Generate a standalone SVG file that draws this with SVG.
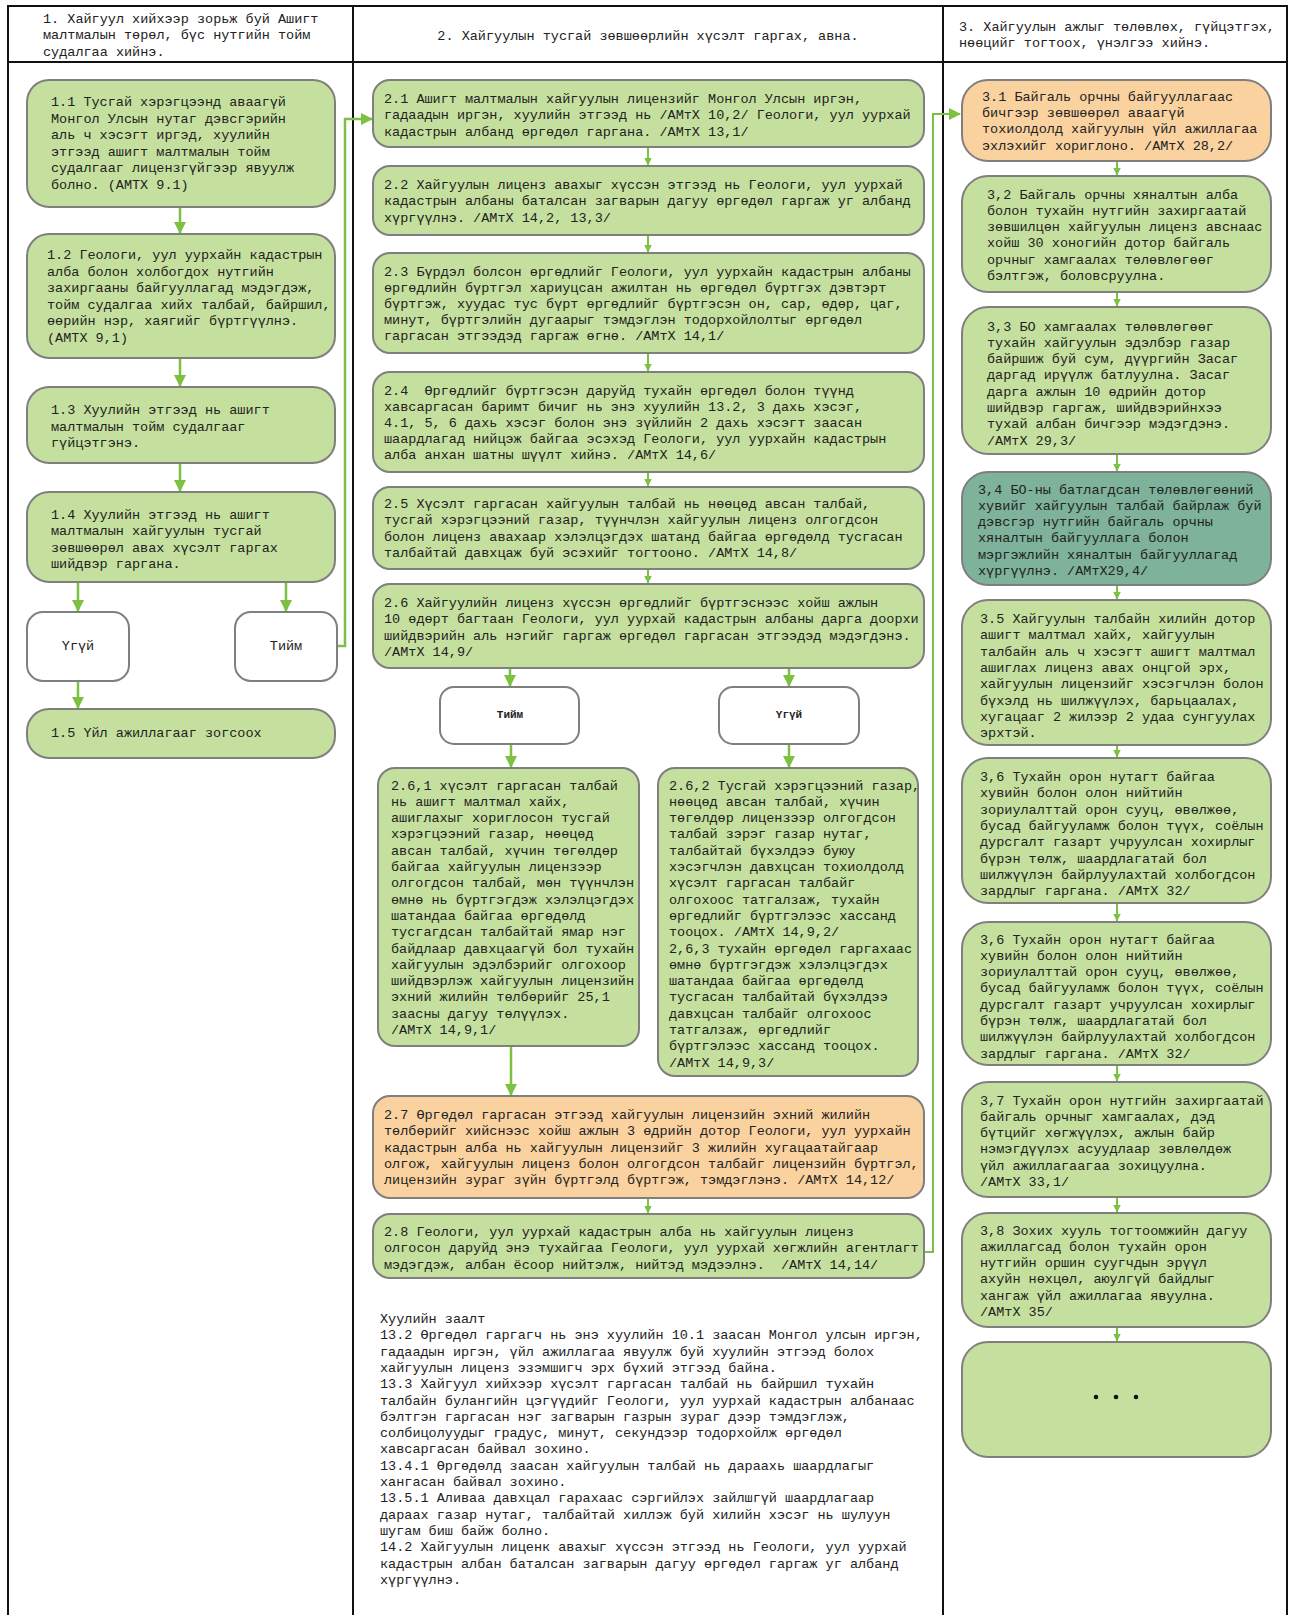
<svg xmlns="http://www.w3.org/2000/svg" width="1291" height="1615" viewBox="0 0 1291 1615">
<style>
.t{font-family:"Liberation Mono","DejaVu Sans Mono",monospace;font-size:13.5px;fill:#222;white-space:pre}
.s{font-family:"Liberation Mono","DejaVu Sans Mono",monospace;font-size:11px;font-weight:bold;fill:#222}
.g{fill:#c5e09e;stroke:#7f7f7f;stroke-width:2}
.o{fill:#fad2a0;stroke:#7f7f7f;stroke-width:2}
.tl{fill:#7eb29a;stroke:#7f7f7f;stroke-width:2}
.w{fill:#fff;stroke:#7f7f7f;stroke-width:2}
.c{fill:none;stroke:#7dc142;stroke-width:2.5}
.cs{fill:none;stroke:#7dc142;stroke-width:2}
.f{stroke:#111;stroke-width:2;fill:none}
</style>
<defs>
<marker id="ab" markerUnits="userSpaceOnUse" markerWidth="12" markerHeight="12" viewBox="0 0 12 12" refX="11" refY="6" orient="auto"><path d="M0,0 L12,6 L0,12 z" fill="#7dc142"/></marker>
<marker id="as" markerUnits="userSpaceOnUse" markerWidth="8" markerHeight="8" viewBox="0 0 8 8" refX="7.5" refY="4" orient="auto"><path d="M0,0 L8,4 L0,8 z" fill="#7dc142"/></marker>
</defs>
<rect width="1291" height="1615" fill="#fff"/>
<g id="frame">
<line class="f" x1="7" y1="6" x2="1288" y2="6" stroke-width="3"/>
<line class="f" x1="7" y1="62" x2="1288" y2="62"/>
<line class="f" x1="8" y1="5" x2="8" y2="1615"/>
<line class="f" x1="353" y1="5" x2="353" y2="1615"/>
<line class="f" x1="943" y1="5" x2="943" y2="1615"/>
<line class="f" x1="1287" y1="5" x2="1287" y2="1615"/>
</g>
<g id="headers">
<text class="t"><tspan x="43" y="23">1. Хайгуул хийхээр зорьж буй Ашигт</tspan><tspan x="43" dy="16.4">малтмалын төрөл, бүс нутгийн тойм</tspan><tspan x="43" dy="16.4">судалгаа хийнэ.</tspan></text>
<text class="t" x="648" y="39.5" text-anchor="middle">2. Хайгуулын тусгай зөвшөөрлийн хүсэлт гаргах, авна.</text>
<text class="t"><tspan x="959" y="31">3. Хайгуулын ажлыг төлөвлөх, гүйцэтгэх,</tspan><tspan x="959" dy="16.4">нөөцийг тогтоох, үнэлгээ хийнэ.</tspan></text>
</g>
<g id="connectors">
<path class="c" d="M180,207 V233" marker-end="url(#ab)"/>
<path class="c" d="M180,358 V386" marker-end="url(#ab)"/>
<path class="c" d="M180,463 V491" marker-end="url(#ab)"/>
<path class="c" d="M78,582 V611" marker-end="url(#ab)"/>
<path class="c" d="M286,582 V611" marker-end="url(#ab)"/>
<path class="c" d="M78,681 V708" marker-end="url(#ab)"/>
<path class="c" d="M330,646 H345 V119 H372" marker-end="url(#ab)"/>
<path class="cs" d="M648,147 V165" marker-end="url(#as)"/>
<path class="cs" d="M648,235 V252" marker-end="url(#as)"/>
<path class="cs" d="M648,353 V371" marker-end="url(#as)"/>
<path class="cs" d="M648,472 V486" marker-end="url(#as)"/>
<path class="cs" d="M648,569 V583" marker-end="url(#as)"/>
<path class="c" d="M510,668 V686" marker-end="url(#ab)"/>
<path class="c" d="M789,668 V686" marker-end="url(#ab)"/>
<path class="c" d="M511,744 V767" marker-end="url(#ab)"/>
<path class="c" d="M789,744 V767" marker-end="url(#ab)"/>
<path class="c" d="M511,1046 V1095" marker-end="url(#ab)"/>
<path class="cs" d="M648,1198 V1213" marker-end="url(#as)"/>
<path class="cs" d="M918,1252 H933 V114 H960" marker-end="url(#ab)"/>
<path class="cs" d="M1117,161 V175" marker-end="url(#as)"/>
<path class="cs" d="M1117,292 V306" marker-end="url(#as)"/>
<path class="cs" d="M1117,454 V471" marker-end="url(#as)"/>
<path class="cs" d="M1117,585 V599" marker-end="url(#as)"/>
<path class="cs" d="M1117,745 V757" marker-end="url(#as)"/>
<path class="cs" d="M1117,903 V921" marker-end="url(#as)"/>
<path class="cs" d="M1117,1065 V1081" marker-end="url(#as)"/>
<path class="cs" d="M1117,1197 V1212" marker-end="url(#as)"/>
<path class="cs" d="M1117,1327 V1341" marker-end="url(#as)"/>
</g>
<g id="n1_1"><rect class="g" x="27" y="80" width="308" height="127" rx="22"/>
<text class="t"><tspan x="51" y="106">1.1 Тусгай хэрэгцээнд аваагүй</tspan><tspan x="51" dy="16.5">Монгол Улсын нутаг дэвсгэрийн</tspan><tspan x="51" dy="16.5">аль ч хэсэгт иргэд, хуулийн</tspan><tspan x="51" dy="16.5">этгээд ашигт малтмалын тойм</tspan><tspan x="51" dy="16.5">судалгааг лицензгүйгээр явуулж</tspan><tspan x="51" dy="16.5">болно. (АМТХ 9.1)</tspan></text></g>
<g id="n1_2"><rect class="g" x="27" y="234" width="308" height="124" rx="22"/>
<text class="t"><tspan x="47" y="259">1.2 Геологи, уул уурхайн кадастрын</tspan><tspan x="47" dy="16.5">алба болон холбогдох нутгийн</tspan><tspan x="47" dy="16.5">захиргааны байгууллагад мэдэгдэж,</tspan><tspan x="47" dy="16.5">тойм судалгаа хийх талбай, байршил,</tspan><tspan x="47" dy="16.5">өөрийн нэр, хаягийг бүртгүүлнэ.</tspan><tspan x="47" dy="16.5">(АМТХ 9,1)</tspan></text></g>
<g id="n1_3"><rect class="g" x="27" y="387" width="308" height="76" rx="22"/>
<text class="t"><tspan x="51" y="414">1.3 Хуулийн этгээд нь ашигт</tspan><tspan x="51" dy="16.5">малтмалын тойм судалгааг</tspan><tspan x="51" dy="16.5">гүйцэтгэнэ.</tspan></text></g>
<g id="n1_4"><rect class="g" x="27" y="492" width="308" height="90" rx="22"/>
<text class="t"><tspan x="51" y="518.5">1.4 Хуулийн этгээд нь ашигт</tspan><tspan x="51" dy="16.5">малтмалын хайгуулын тусгай</tspan><tspan x="51" dy="16.5">зөвшөөрөл авах хүсэлт гаргах</tspan><tspan x="51" dy="16.5">шийдвэр гаргана.</tspan></text></g>
<g id="n1_no"><rect class="w" x="27" y="612" width="102" height="69" rx="16"/>
<text class="t" x="78" y="650" text-anchor="middle">Үгүй</text></g>
<g id="n1_yes"><rect class="w" x="235" y="612" width="102" height="69" rx="16"/>
<text class="t" x="286" y="650" text-anchor="middle">Тийм</text></g>
<g id="n1_5"><rect class="g" x="27" y="709" width="308" height="49" rx="22"/>
<text class="t" x="51" y="736.5">1.5 Үйл ажиллагааг зогсоох</text></g>

<g id="n2_1"><rect class="g" x="373" y="80" width="551" height="67" rx="17"/>
<text class="t"><tspan x="384" y="103">2.1 Ашигт малтмалын хайгуулын лицензийг Монгол Улсын иргэн,</tspan><tspan x="384" dy="16.4">гадаадын иргэн, хуулийн этгээд нь /АМтХ 10,2/ Геологи, уул уурхай</tspan><tspan x="384" dy="16.4">кадастрын албанд өргөдөл гаргана. /АМтХ 13,1/</tspan></text></g>
<g id="n2_2"><rect class="g" x="373" y="166" width="551" height="69" rx="17"/>
<text class="t"><tspan x="384" y="189">2.2 Хайгуулын лиценз авахыг хүссэн этгээд нь Геологи, уул уурхай</tspan><tspan x="384" dy="16.4">кадастрын албаны баталсан загварын дагуу өргөдөл гаргаж уг албанд</tspan><tspan x="384" dy="16.4">хүргүүлнэ. /АМтХ 14,2, 13,3/</tspan></text></g>
<g id="n2_3"><rect class="g" x="373" y="253" width="551" height="100" rx="17"/>
<text class="t"><tspan x="384" y="275.5">2.3 Бүрдэл болсон өргөдлийг Геологи, уул уурхайн кадастрын албаны</tspan><tspan x="384" dy="16.2">өргөдлийн бүртгэл хариуцсан ажилтан нь өргөдөл бүртгэх дэвтэрт</tspan><tspan x="384" dy="16.2">бүртгэж, хуудас тус бүрт өргөдлийг бүртгэсэн он, сар, өдөр, цаг,</tspan><tspan x="384" dy="16.2">минут, бүртгэлийн дугаарыг тэмдэглэн тодорхойлолтыг өргөдөл</tspan><tspan x="384" dy="16.2">гаргасан этгээдэд гаргаж өгнө. /АМтХ 14,1/</tspan></text></g>
<g id="n2_4"><rect class="g" x="373" y="372" width="551" height="100" rx="17"/>
<text class="t"><tspan x="384" y="394.5">2.4  Өргөдлийг бүртгэсэн даруйд тухайн өргөдөл болон түүнд</tspan><tspan x="384" dy="16.2">хавсаргасан баримт бичиг нь энэ хуулийн 13.2, 3 дахь хэсэг,</tspan><tspan x="384" dy="16.2">4.1, 5, 6 дахь хэсэг болон энэ зүйлийн 2 дахь хэсэгт заасан</tspan><tspan x="384" dy="16.2">шаардлагад нийцэж байгаа эсэхэд Геологи, уул уурхайн кадастрын</tspan><tspan x="384" dy="16.2">алба анхан шатны шүүлт хийнэ. /АМтХ 14,6/</tspan></text></g>
<g id="n2_5"><rect class="g" x="373" y="487" width="551" height="82" rx="17"/>
<text class="t"><tspan x="384" y="508">2.5 Хүсэлт гаргасан хайгуулын талбай нь нөөцөд авсан талбай,</tspan><tspan x="384" dy="16.4">тусгай хэрэгцээний газар, түүнчлэн хайгуулын лиценз олгогдсон</tspan><tspan x="384" dy="16.4">болон лиценз авахаар хэлэлцэгдэх шатанд байгаа өргөдөлд тусгасан</tspan><tspan x="384" dy="16.4">талбайтай давхцаж буй эсэхийг тогтооно. /АМтХ 14,8/</tspan></text></g>
<g id="n2_6"><rect class="g" x="373" y="584" width="551" height="84" rx="17"/>
<text class="t"><tspan x="384" y="607">2.6 Хайгуулийн лиценз хүссэн өргөдлийг бүртгэснээс хойш ажлын</tspan><tspan x="384" dy="16.4">10 өдөрт багтаан Геологи, уул уурхай кадастрын албаны дарга доорхи</tspan><tspan x="384" dy="16.4">шийдвэрийн аль нэгийг гаргаж өргөдөл гаргасан этгээдэд мэдэгдэнэ.</tspan><tspan x="384" dy="16.4">/АМтХ 14,9/</tspan></text></g>
<g id="n2_yes"><rect class="w" x="440" y="687" width="139" height="57" rx="14"/>
<text class="s" x="510" y="718" text-anchor="middle">Тийм</text></g>
<g id="n2_no"><rect class="w" x="719" y="687" width="140" height="57" rx="14"/>
<text class="s" x="789" y="718" text-anchor="middle">Үгүй</text></g>
<g id="n2_6_1"><rect class="g" x="378" y="768" width="261" height="278" rx="17"/>
<text class="t"><tspan x="391" y="789.5">2.6,1 хүсэлт гаргасан талбай</tspan><tspan x="391" dy="16.3">нь ашигт малтмал хайх,</tspan><tspan x="391" dy="16.3">ашиглахыг хориглосон тусгай</tspan><tspan x="391" dy="16.3">хэрэгцээний газар, нөөцөд</tspan><tspan x="391" dy="16.3">авсан талбай, хүчин төгөлдөр</tspan><tspan x="391" dy="16.3">байгаа хайгуулын лицензээр</tspan><tspan x="391" dy="16.3">олгогдсон талбай, мөн түүнчлэн</tspan><tspan x="391" dy="16.3">өмнө нь бүртгэгдэж хэлэлцэгдэх</tspan><tspan x="391" dy="16.3">шатандаа байгаа өргөдөлд</tspan><tspan x="391" dy="16.3">тусгагдсан талбайтай ямар нэг</tspan><tspan x="391" dy="16.3">байдлаар давхцаагүй бол тухайн</tspan><tspan x="391" dy="16.3">хайгуулын эдэлбэрийг олгохоор</tspan><tspan x="391" dy="16.3">шийдвэрлэж хайгуулын лицензийн</tspan><tspan x="391" dy="16.3">эхний жилийн төлбөрийг 25,1</tspan><tspan x="391" dy="16.3">заасны дагуу төлүүлэх.</tspan><tspan x="391" dy="16.3">/АМтХ 14,9,1/</tspan></text></g>
<g id="n2_6_2"><rect class="g" x="658" y="768" width="260" height="308" rx="17"/>
<text class="t"><tspan x="669" y="789.5">2.6,2 Тусгай хэрэгцээний газар,</tspan><tspan x="669" dy="16.3">нөөцөд авсан талбай, хүчин</tspan><tspan x="669" dy="16.3">төгөлдөр лицензээр олгогдсон</tspan><tspan x="669" dy="16.3">талбай зэрэг газар нутаг,</tspan><tspan x="669" dy="16.3">талбайтай бүхэлдээ буюу</tspan><tspan x="669" dy="16.3">хэсэгчлэн давхцсан тохиолдолд</tspan><tspan x="669" dy="16.3">хүсэлт гаргасан талбайг</tspan><tspan x="669" dy="16.3">олгохоос татгалзаж, тухайн</tspan><tspan x="669" dy="16.3">өргөдлийг бүртгэлээс хассанд</tspan><tspan x="669" dy="16.3">тооцох. /АМтХ 14,9,2/</tspan><tspan x="669" dy="16.3">2,6,3 тухайн өргөдөл гаргахаас</tspan><tspan x="669" dy="16.3">өмнө бүртгэгдэж хэлэлцэгдэх</tspan><tspan x="669" dy="16.3">шатандаа байгаа өргөдөлд</tspan><tspan x="669" dy="16.3">тусгасан талбайтай бүхэлдээ</tspan><tspan x="669" dy="16.3">давхцсан талбайг олгохоос</tspan><tspan x="669" dy="16.3">татгалзаж, өргөдлийг</tspan><tspan x="669" dy="16.3">бүртгэлээс хассанд тооцох.</tspan><tspan x="669" dy="16.3">/АМтХ 14,9,3/</tspan></text></g>
<g id="n2_7"><rect class="o" x="373" y="1096" width="551" height="102" rx="17"/>
<text class="t"><tspan x="384" y="1119">2.7 Өргөдөл гаргасан этгээд хайгуулын лицензийн эхний жилийн</tspan><tspan x="384" dy="16.3">төлбөрийг хийснээс хойш ажлын 3 өдрийн дотор Геологи, уул уурхайн</tspan><tspan x="384" dy="16.3">кадастрын алба нь хайгуулын лицензийг 3 жилийн хугацаатайгаар</tspan><tspan x="384" dy="16.3">олгож, хайгуулын лиценз болон олгогдсон талбайг лицензийн бүртгэл,</tspan><tspan x="384" dy="16.3">лицензийн зураг зүйн бүртгэлд бүртгэж, тэмдэглэнэ. /АМтХ 14,12/</tspan></text></g>
<g id="n2_8"><rect class="g" x="373" y="1214" width="551" height="64" rx="17"/>
<text class="t"><tspan x="384" y="1236">2.8 Геологи, уул уурхай кадастрын алба нь хайгуулын лиценз</tspan><tspan x="384" dy="16.3">олгосон даруйд энэ тухайгаа Геологи, уул уурхай хөгжлийн агентлагт</tspan><tspan x="384" dy="16.3">мэдэгдэж, албан ёсоор нийтэлж, нийтэд мэдээлнэ.  /АМтХ 14,14/</tspan></text></g>
<g id="law">
<text class="t"><tspan x="380" y="1323">Хуулийн заалт</tspan><tspan x="380" dy="16.3">13.2 Өргөдөл гаргагч нь энэ хуулийн 10.1 заасан Монгол улсын иргэн,</tspan><tspan x="380" dy="16.3">гадаадын иргэн, үйл ажиллагаа явуулж буй хуулийн этгээд болох</tspan><tspan x="380" dy="16.3">хайгуулын лиценз эзэмшигч эрх бүхий этгээд байна.</tspan><tspan x="380" dy="16.3">13.3 Хайгуул хийхээр хүсэлт гаргасан талбай нь байршил тухайн</tspan><tspan x="380" dy="16.3">талбайн булангийн цэгүүдийг Геологи, уул уурхай кадастрын албанаас</tspan><tspan x="380" dy="16.3">бэлтгэн гаргасан нэг загварын газрын зураг дээр тэмдэглэж,</tspan><tspan x="380" dy="16.3">солбицолуудыг градус, минут, секундээр тодорхойлж өргөдөл</tspan><tspan x="380" dy="16.3">хавсаргасан байвал зохино.</tspan><tspan x="380" dy="16.3">13.4.1 Өргөдөлд заасан хайгуулын талбай нь дараахь шаардлагыг</tspan><tspan x="380" dy="16.3">хангасан байвал зохино.</tspan><tspan x="380" dy="16.3">13.5.1 Аливаа давхцал гарахаас сэргийлэх зайлшгүй шаардлагаар</tspan><tspan x="380" dy="16.3">дараах газар нутаг, талбайтай хиллэж буй хилийн хэсэг нь шулуун</tspan><tspan x="380" dy="16.3">шугам биш байж болно.</tspan><tspan x="380" dy="16.3">14.2 Хайгуулын лиценк авахыг хүссэн этгээд нь Геологи, уул уурхай</tspan><tspan x="380" dy="16.3">кадастрын албан баталсан загварын дагуу өргөдөл гаргаж уг албанд</tspan><tspan x="380" dy="16.3">хүргүүлнэ.</tspan></text>
</g>

<g id="n3_1"><rect class="o" x="962" y="80" width="309" height="81" rx="26"/>
<text class="t"><tspan x="982" y="100.5">3.1 Байгаль орчны байгууллагаас</tspan><tspan x="982" dy="16.4">бичгээр зөвшөөрөл аваагүй</tspan><tspan x="982" dy="16.4">тохиолдолд хайгуулын үйл ажиллагаа</tspan><tspan x="982" dy="16.4">эхлэхийг хориглоно. /АМтХ 28,2/</tspan></text></g>
<g id="n3_2"><rect class="g" x="962" y="176" width="309" height="116" rx="26"/>
<text class="t"><tspan x="987" y="198.5">3,2 Байгаль орчны хяналтын алба</tspan><tspan x="987" dy="16.3">болон тухайн нутгийн захиргаатай</tspan><tspan x="987" dy="16.3">зөвшилцөн хайгуулын лиценз авснаас</tspan><tspan x="987" dy="16.3">хойш 30 хоногийн дотор байгаль</tspan><tspan x="987" dy="16.3">орчныг хамгаалах төлөвлөгөөг</tspan><tspan x="987" dy="16.3">бэлтгэж, боловсруулна.</tspan></text></g>
<g id="n3_3"><rect class="g" x="962" y="307" width="309" height="147" rx="26"/>
<text class="t"><tspan x="987" y="330.5">3,3 БО хамгаалах төлөвлөгөөг</tspan><tspan x="987" dy="16.3">тухайн хайгуулын эдэлбэр газар</tspan><tspan x="987" dy="16.3">байршиж буй сум, дүүргийн Засаг</tspan><tspan x="987" dy="16.3">даргад ирүүлж батлуулна. Засаг</tspan><tspan x="987" dy="16.3">дарга ажлын 10 өдрийн дотор</tspan><tspan x="987" dy="16.3">шийдвэр гаргаж, шийдвэрийнхээ</tspan><tspan x="987" dy="16.3">тухай албан бичгээр мэдэгдэнэ.</tspan><tspan x="987" dy="16.3">/АМтХ 29,3/</tspan></text></g>
<g id="n3_4"><rect class="tl" x="962" y="472" width="309" height="113" rx="26"/>
<text class="t"><tspan x="978" y="493.5">3,4 БО-ны батлагдсан төлөвлөгөөний</tspan><tspan x="978" dy="16.3">хувийг хайгуулын талбай байрлаж буй</tspan><tspan x="978" dy="16.3">дэвсгэр нутгийн байгаль орчны</tspan><tspan x="978" dy="16.3">хяналтын байгууллага болон</tspan><tspan x="978" dy="16.3">мэргэжлийн хяналтын байгууллагад</tspan><tspan x="978" dy="16.3">хүргүүлнэ. /АМтХ29,4/</tspan></text></g>
<g id="n3_5"><rect class="g" x="962" y="600" width="309" height="145" rx="26"/>
<text class="t"><tspan x="980" y="623">3.5 Хайгуулын талбайн хилийн дотор</tspan><tspan x="980" dy="16.3">ашигт малтмал хайх, хайгуулын</tspan><tspan x="980" dy="16.3">талбайн аль ч хэсэгт ашигт малтмал</tspan><tspan x="980" dy="16.3">ашиглах лиценз авах онцгой эрх,</tspan><tspan x="980" dy="16.3">хайгуулын лицензийг хэсэгчлэн болон</tspan><tspan x="980" dy="16.3">бүхэлд нь шилжүүлэх, барьцаалах,</tspan><tspan x="980" dy="16.3">хугацааг 2 жилээр 2 удаа сунгуулах</tspan><tspan x="980" dy="16.3">эрхтэй.</tspan></text></g>
<g id="n3_6a"><rect class="g" x="962" y="758" width="309" height="145" rx="26"/>
<text class="t"><tspan x="980" y="781">3,6 Тухайн орон нутагт байгаа</tspan><tspan x="980" dy="16.3">хувийн болон олон нийтийн</tspan><tspan x="980" dy="16.3">зориулалттай орон сууц, өвөлжөө,</tspan><tspan x="980" dy="16.3">бусад байгууламж болон түүх, соёлын</tspan><tspan x="980" dy="16.3">дурсгалт газарт учруулсан хохирлыг</tspan><tspan x="980" dy="16.3">бүрэн төлж, шаардлагатай бол</tspan><tspan x="980" dy="16.3">шилжүүлэн байрлуулахтай холбогдсон</tspan><tspan x="980" dy="16.3">зардлыг гаргана. /АМтХ 32/</tspan></text></g>
<g id="n3_6b"><rect class="g" x="962" y="922" width="309" height="143" rx="26"/>
<text class="t"><tspan x="980" y="943.5">3,6 Тухайн орон нутагт байгаа</tspan><tspan x="980" dy="16.3">хувийн болон олон нийтийн</tspan><tspan x="980" dy="16.3">зориулалттай орон сууц, өвөлжөө,</tspan><tspan x="980" dy="16.3">бусад байгууламж болон түүх, соёлын</tspan><tspan x="980" dy="16.3">дурсгалт газарт учруулсан хохирлыг</tspan><tspan x="980" dy="16.3">бүрэн төлж, шаардлагатай бол</tspan><tspan x="980" dy="16.3">шилжүүлэн байрлуулахтай холбогдсон</tspan><tspan x="980" dy="16.3">зардлыг гаргана. /АМтХ 32/</tspan></text></g>
<g id="n3_7"><rect class="g" x="962" y="1082" width="309" height="115" rx="26"/>
<text class="t"><tspan x="980" y="1104.5">3,7 Тухайн орон нутгийн захиргаатай</tspan><tspan x="980" dy="16.3">байгаль орчныг хамгаалах, дэд</tspan><tspan x="980" dy="16.3">бүтцийг хөгжүүлэх, ажлын байр</tspan><tspan x="980" dy="16.3">нэмэгдүүлэх асуудлаар зөвлөлдөж</tspan><tspan x="980" dy="16.3">үйл ажиллагаагаа зохицуулна.</tspan><tspan x="980" dy="16.3">/АМтХ 33,1/</tspan></text></g>
<g id="n3_8"><rect class="g" x="962" y="1213" width="309" height="114" rx="26"/>
<text class="t"><tspan x="980" y="1234.5">3,8 Зохих хууль тогтоомжийн дагуу</tspan><tspan x="980" dy="16.3">ажиллагсад болон тухайн орон</tspan><tspan x="980" dy="16.3">нутгийн оршин суугчдын эрүүл</tspan><tspan x="980" dy="16.3">ахуйн нөхцөл, аюулгүй байдлыг</tspan><tspan x="980" dy="16.3">хангаж үйл ажиллагаа явуулна.</tspan><tspan x="980" dy="16.3">/АМтХ 35/</tspan></text></g>
<g id="n3_more"><rect class="g" x="962" y="1342" width="309" height="115" rx="26"/>
<circle cx="1096" cy="1397" r="2.3" fill="#111"/><circle cx="1116" cy="1397" r="2.3" fill="#111"/><circle cx="1136" cy="1397" r="2.3" fill="#111"/></g>
</svg>
